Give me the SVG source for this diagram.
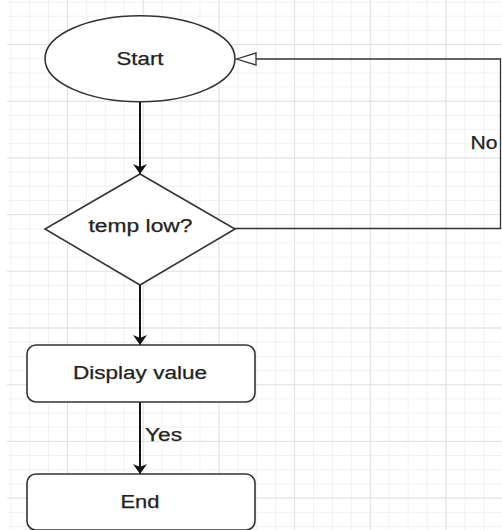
<svg xmlns="http://www.w3.org/2000/svg" width="502" height="530" viewBox="0 0 502 530">
  <defs>
    <pattern id="minor" patternUnits="userSpaceOnUse" x="10.2" y="1.5" width="18.925" height="14.175">
      <path d="M0.5 0 V14.175 M0 0.5 H18.925" stroke="#f1f1f1" stroke-width="1" fill="none"/>
    </pattern>
    <pattern id="major" patternUnits="userSpaceOnUse" x="67" y="44" width="75.7" height="56.7">
      <path d="M0.5 0 V56.7 M0 0.5 H75.7" stroke="#e2e2e2" stroke-width="1" fill="none"/>
    </pattern>
    <marker id="arrow" markerWidth="11" markerHeight="14" refX="10" refY="7" orient="auto" markerUnits="userSpaceOnUse">
      <path d="M0 0 L10 7 L0 14 L3 7 Z" fill="#111"/>
    </marker>
  </defs>
  <style>
    .node { fill: #ffffff; stroke: #333333; stroke-width: 1.6; }
    .lbl { font-family: "Liberation Sans", Arial, sans-serif; font-size: 18px; fill: #222222; text-anchor: middle; stroke: #222222; stroke-width: 0.25; }
    .edge { fill: none; stroke: #111111; stroke-width: 2; }
    .loop { fill: none; stroke: #333333; stroke-width: 1.3; }
  </style>
  <rect x="0" y="0" width="502" height="530" fill="#ffffff"/>
  <rect x="7" y="0" width="495" height="530" fill="url(#minor)"/>
  <rect x="7" y="0" width="495" height="530" fill="url(#major)"/>

  <g id="connectors">
    <line class="edge" x1="140" y1="102" x2="140" y2="174" marker-end="url(#arrow)"/>
    <line class="edge" x1="140" y1="285" x2="140" y2="345" marker-end="url(#arrow)"/>
    <line class="edge" x1="140" y1="402" x2="140" y2="474" marker-end="url(#arrow)"/>
    <path class="loop" d="M235 228.5 H500.5 V59 H256"/>
    <polygon points="236.5,59 256,53 256,65" fill="#ffffff" stroke="#333333" stroke-width="1.3"/>
    <text class="lbl" x="484" y="149" textLength="27" lengthAdjust="spacingAndGlyphs">No</text>
    <text class="lbl" x="163.5" y="441" textLength="37" lengthAdjust="spacingAndGlyphs">Yes</text>
  </g>

  <g id="start">
    <ellipse class="node" cx="140" cy="58.7" rx="95" ry="43"/>
    <text class="lbl" x="140" y="65" textLength="47" lengthAdjust="spacingAndGlyphs">Start</text>
  </g>
  <g id="decision">
    <polygon class="node" points="140,174 235,229 140,285 45,229"/>
    <text class="lbl" x="140.5" y="232" textLength="104" lengthAdjust="spacingAndGlyphs">temp low?</text>
  </g>
  <g id="display">
    <rect class="node" x="27" y="345" width="228" height="57" rx="9" ry="9"/>
    <text class="lbl" x="140" y="379" textLength="134" lengthAdjust="spacingAndGlyphs">Display value</text>
  </g>
  <g id="end">
    <rect class="node" x="27" y="474" width="228" height="56" rx="9" ry="9"/>
    <text class="lbl" x="140" y="508" textLength="39" lengthAdjust="spacingAndGlyphs">End</text>
  </g>
</svg>
